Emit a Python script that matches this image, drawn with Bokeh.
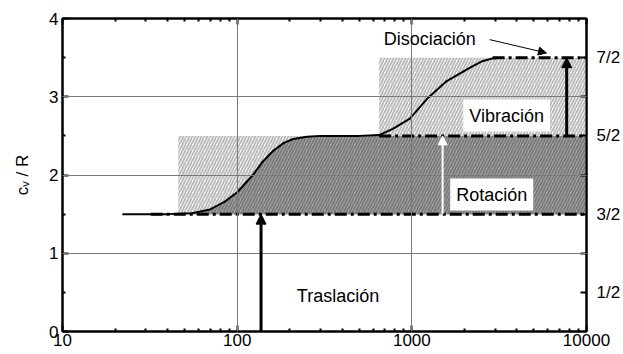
import numpy as np
from bokeh.plotting import figure
from bokeh.models import (LogAxis, LinearAxis, FixedTicker, Range1d, Label,
                          Arrow, NormalHead)
from bokeh.embed import file_html
from bokeh.resources import INLINE

# ---- data ----
curve_T = [22, 40, 55, 70, 85, 100, 123, 140, 161, 185, 209, 251, 300, 400,
           500, 650, 778, 975, 1218, 1585, 2143, 2500, 2900, 3300]
curve_cv = [1.5, 1.5, 1.51, 1.56, 1.66, 1.78, 2.0, 2.17, 2.31, 2.41, 2.46,
            2.49, 2.5, 2.5, 2.5, 2.51, 2.59, 2.72, 2.97, 3.2, 3.37, 3.45,
            3.49, 3.5]

T_max = 10000
level_start_T = [32, 650, 2900]       # start of the dash-dot plateaus
level_cv = [1.5, 2.5, 3.5]            # 3/2, 5/2, 7/2
rot_band_T = [46, T_max]
rot_band_cv = [1.5, 2.5]
vib_band_T = [650, T_max]
vib_band_cv = [2.5, 3.5]

trans_arrow = (137, 0.0, 1.5)
rot_arrow = (1500, 1.5, 2.5)
vib_arrow = (7700, 2.5, 3.5)
dis_arrow = (2790, 3.73, 5900, 3.56)

labels_text = ["Traslación", "Rotación", "Vibración", "Disociación"]
labels_T = [378, 2866, 3490, 1268]
labels_cv = [0.46, 1.75, 2.76, 3.74]
labels_bg = [None, "white", "white", None]

x_ticks = [10, 100, 1000, 10000]
y_ticks = [0, 1, 2, 3, 4]
right_ticks = [0.5, 1.5, 2.5, 3.5]
right_labels = ["1/2", "3/2", "5/2", "7/2"]

FONT = "Liberation Sans"

p = figure(width=623, height=354, x_axis_type="log",
           x_range=Range1d(10, 10000), y_range=Range1d(0, 4),
           output_backend="svg", toolbar_location=None,
           min_border_left=62, min_border_right=36,
           min_border_top=18, min_border_bottom=23)
p.outline_line_color = "black"
p.outline_line_width = 2
p.background_fill_color = "white"
p.border_fill_color = "white"

# hatched bands
p.quad(left=[rot_band_T[0]], right=[rot_band_T[1]],
       bottom=[rot_band_cv[0]], top=[rot_band_cv[1]],
       fill_color="white", line_color=None, hatch_pattern="/",
       hatch_color="#bcbcbc", hatch_scale=6, hatch_weight=2)
p.quad(left=[vib_band_T[0]], right=[vib_band_T[1]],
       bottom=[vib_band_cv[0]], top=[vib_band_cv[1]],
       fill_color="white", line_color=None, hatch_pattern="/",
       hatch_color="#bcbcbc", hatch_scale=6, hatch_weight=2)

dark_x = [t for t in curve_T if t >= rot_band_T[0]] + [T_max]
dark_top = [min(c, 2.5) for t, c in zip(curve_T, curve_cv) if t >= rot_band_T[0]] + [2.5]
p.varea(x=dark_x, y1=[1.5] * len(dark_x), y2=dark_top,
        fill_color="#a9a9a9", hatch_pattern="/", hatch_color="#7c7c7c",
        hatch_scale=6, hatch_weight=2)

# dash-dot plateaus
for t0, cv in zip(level_start_T, level_cv):
    p.line([t0, T_max], [cv, cv], line_color="black", line_width=3,
           line_dash="12 4 3 4")

# curve
p.line(curve_T, curve_cv, line_color="black", line_width=2)

# grid
p.xgrid.ticker = FixedTicker(ticks=[100, 1000])
p.ygrid.ticker = FixedTicker(ticks=[1, 2, 3])
for g in (p.xgrid, p.ygrid):
    g.grid_line_color = "#7a7a7a"
    g.grid_line_width = 1
    g.level = "guide"

# axes
def style_axis(ax):
    ax.axis_line_width = 2
    ax.axis_line_color = "black"
    ax.major_tick_in = 6
    ax.major_tick_out = 0
    ax.minor_tick_in = 3
    ax.minor_tick_out = 0
    ax.major_tick_line_width = 2
    ax.minor_tick_line_width = 2
    ax.major_label_text_font = FONT
    ax.major_label_text_font_size = "17px"
    ax.major_label_text_color = "black"
    ax.major_label_standoff = 3

minor_x = [20, 30, 40, 50, 60, 70, 80, 90,
           200, 300, 400, 500, 600, 700, 800, 900,
           2000, 3000, 4000, 5000, 6000, 7000, 8000, 9000]

xa = p.xaxis[0]
xa.ticker = FixedTicker(ticks=x_ticks, minor_ticks=minor_x)
xa.major_label_overrides = {t: str(t) for t in x_ticks}
style_axis(xa)
xa.major_label_standoff = 2

ya = p.yaxis[0]
ya.ticker = FixedTicker(ticks=y_ticks, minor_ticks=[0.5, 1.5, 2.5, 3.5])
style_axis(ya)
ya.major_label_standoff = 4
ya.axis_label = "cᵥ / R"
ya.axis_label_text_font = FONT
ya.axis_label_text_font_size = "17px"
ya.axis_label_text_font_style = "normal"
ya.axis_label_text_color = "black"
ya.axis_label_standoff = 14

top = LogAxis(ticker=FixedTicker(ticks=x_ticks, minor_ticks=minor_x))
style_axis(top)
top.major_label_text_alpha = 0
top.major_label_text_font_size = "2px"
top.major_label_standoff = 0
p.add_layout(top, "above")

right = LinearAxis(ticker=FixedTicker(ticks=right_ticks, minor_ticks=[1, 2, 3]))
style_axis(right)
right.minor_tick_in = 6
right.major_label_overrides = {t: s for t, s in zip(right_ticks, right_labels)}
right.major_label_standoff = 10
p.add_layout(right, "right")

# arrows
def add_arrow(x0, y0, x1, y1, color, width, size):
    p.add_layout(Arrow(x_start=x0, y_start=y0, x_end=x1, y_end=y1,
                       line_color=color, line_width=width,
                       end=NormalHead(size=size, fill_color=color,
                                      line_color=color, line_width=1)))

add_arrow(trans_arrow[0], trans_arrow[1], trans_arrow[0], trans_arrow[2], "black", 3, 10)
add_arrow(rot_arrow[0], rot_arrow[1], rot_arrow[0], rot_arrow[2], "white", 2, 9)
add_arrow(vib_arrow[0], vib_arrow[1], vib_arrow[0], vib_arrow[2], "black", 3, 10)
add_arrow(dis_arrow[0], dis_arrow[1], dis_arrow[2], dis_arrow[3], "black", 1, 8)

# labels
for txt, t, cv, bg in zip(labels_text, labels_T, labels_cv, labels_bg):
    kw = {}
    if bg:
        kw = dict(background_fill_color=bg, padding=6)
    p.add_layout(Label(x=t, y=cv, text=txt, text_align="center",
                       text_baseline="middle", text_font=FONT,
                       text_font_size="18px", text_color="black", **kw))

open("out.html", "w").write(file_html(p, INLINE))
